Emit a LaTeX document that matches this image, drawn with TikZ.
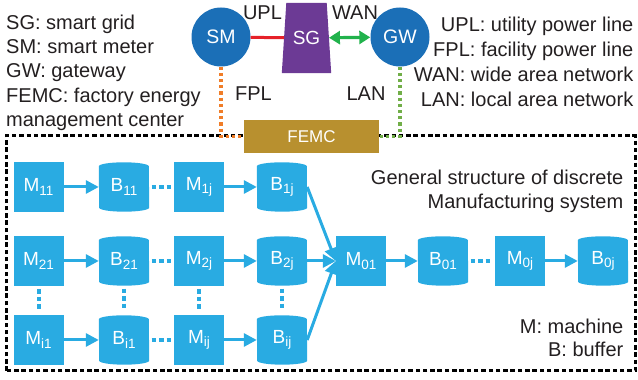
\documentclass[tikz,border=0pt]{standalone}
\usepackage{fontspec}
\setmainfont{Liberation Sans}
\usetikzlibrary{arrows.meta,backgrounds}

\definecolor{nodeblue}{HTML}{1B6FB7}
\definecolor{sgpurple}{HTML}{6C3A95}
\definecolor{femcgold}{HTML}{B8902F}
\definecolor{mfgblue}{HTML}{29ABE2}
\definecolor{upred}{HTML}{E62129}
\definecolor{wangreen}{HTML}{21B24C}
\definecolor{fplorange}{HTML}{F07D28}
\definecolor{langreen}{HTML}{71AE48}
\definecolor{legendtext}{HTML}{231F20}

% lowered index used in machine and buffer names
\newcommand\subidx[1]{\raisebox{-3.5pt}{\fontsize{13.5}{14}\selectfont #1}}

\begin{document}
\begin{tikzpicture}[x=1pt,y=1pt,
  legendL/.style={anchor=base west, inner sep=0, text=legendtext, font=\fontsize{20}{24}\selectfont},
  legendR/.style={anchor=base east, inner sep=0, text=legendtext, font=\fontsize{20}{24}\selectfont},
  linklabel/.style={anchor=base, inner sep=0, text=legendtext, font=\fontsize{20}{24}\selectfont},
  circ/.style={circle, fill=nodeblue, minimum size=59pt, inner sep=0, text=white, font=\fontsize{19.5}{22}\selectfont},
  gridbox/.style={rectangle, minimum width=44.5pt, minimum height=70pt, inner sep=0, text=white, font=\fontsize{19}{22}\selectfont},
  femcbox/.style={rectangle, fill=femcgold, minimum width=135pt, minimum height=33pt, inner sep=0, text=white, font=\fontsize{17}{20}\selectfont},
  machine/.style={rectangle, fill=mfgblue, minimum width=50pt, minimum height=50pt, inner sep=0, text=white, font=\fontsize{19}{22}\selectfont},
  buffer/.style={rectangle, minimum width=50pt, minimum height=49pt, inner sep=0, text=white, font=\fontsize{19}{22}\selectfont},
  flow/.style={mfgblue, line width=3pt, -{Triangle[length=13pt,width=13pt]}},
  skiph/.style={mfgblue, line width=4pt, dash pattern=on 4.5pt off 3pt, shorten <=2.5pt, shorten >=2.5pt},
  skipv/.style={mfgblue, line width=4pt, dash pattern=on 4.5pt off 3pt, shorten <=3pt, shorten >=6pt},
  frame/.style={black, line width=3pt, dash pattern=on 4.5pt off 2.8pt},
  fpl/.style={fplorange, line width=3.4pt, dash pattern=on 3.2pt off 3pt},
  lan/.style={langreen, line width=3.4pt, dash pattern=on 3.2pt off 3pt}
]
\useasboundingbox (0,0) rectangle (638,380);

% abbreviations, left column
\node[legendL] (l1) at (6,350.7) {SG: smart grid};
\node[legendL] (l2) at (6,326.3) {SM: smart meter};
\node[legendL] (l3) at (6,302) {GW: gateway};
\node[legendL] (l4) at (6,277.7) {FEMC: factory energy};
\node[legendL] (l5) at (6,253.5) {management center};

% abbreviations, right column
\node[legendR] (r1) at (633.5,348.3) {UPL: utility power line};
\node[legendR] (r2) at (633.5,323.3) {FPL: facility power line};
\node[legendR] (r3) at (633.5,298.3) {WAN: wide area network};
\node[legendR] (r4) at (633.5,273.3) {LAN: local area network};

% factory boundary
\draw[frame] (6,9) rectangle (635,244);

% grid side
\node[circ] (sm) at (221,343) {SM};
\node[circ] (gw) at (400,343) {GW};
\node[gridbox] (sg) at (306.5,342) {SG};
\begin{scope}[on background layer]
  \fill[sgpurple] ([xshift=2.25pt]sg.north west) -- ([xshift=-2.25pt]sg.north east)
    -- ([xshift=2.25pt]sg.south east) -- ([xshift=-2.25pt]sg.south west) -- cycle;
\end{scope}
\node[femcbox] (femc) at (311.5,243.5) {FEMC};

\draw[upred, line width=3pt] (sm) -- (sg);
\draw[wangreen, line width=3.2pt, {Triangle[length=11pt,width=13pt]}-{Triangle[length=11pt,width=13pt]}] (sg) -- (gw);
\draw[fpl] (sm) |- (femc);
\draw[lan] (gw) |- (femc);

\node[linklabel] (upl) at (262.5,360) {UPL};
\node[linklabel] (wan) at (355,360) {WAN};
\node[linklabel] (fpll) at (253.5,279) {FPL};
\node[linklabel] (lanl) at (366,279) {LAN};

% manufacturing lines
\node[machine] (m11) at (38.5,193) {M\subidx{11}};
\node[buffer]  (b11) at (124,193) {B\subidx{11}};
\node[machine] (m1j) at (199,193) {M\subidx{1j}};
\node[buffer]  (b1j) at (282,193) {B\subidx{1j}};

\node[machine] (m21) at (38.5,119) {M\subidx{21}};
\node[buffer]  (b21) at (124,119) {B\subidx{21}};
\node[machine] (m2j) at (199,119) {M\subidx{2j}};
\node[buffer]  (b2j) at (282,119) {B\subidx{2j}};

\node[machine] (mi1) at (38.5,40) {M\subidx{i1}};
\node[buffer]  (bi1) at (124,40) {B\subidx{i1}};
\node[machine] (mij) at (199,40) {M\subidx{ij}};
\node[buffer]  (bij) at (282,40) {B\subidx{ij}};

\node[machine] (m01) at (361,119) {M\subidx{01}};
\node[buffer]  (b01) at (443,119) {B\subidx{01}};
\node[machine] (m0j) at (520,119) {M\subidx{0j}};
\node[buffer]  (b0j) at (603,119) {B\subidx{0j}};

% buffer bodies drawn as upright cylinders
\begin{scope}[on background layer]
  \foreach \b in {b11,b1j,b21,b2j,bi1,bij,b01,b0j}
    \fill[mfgblue] ([yshift=-4pt]\b.north west)
      arc[start angle=180,end angle=0,x radius=25pt,y radius=4pt]
      -- ([yshift=4pt]\b.south east)
      arc[start angle=0,end angle=-180,x radius=25pt,y radius=4pt] -- cycle;
\end{scope}

\draw[flow] (m11) -- (b11);
\draw[flow] (m1j) -- (b1j);
\draw[flow] (m21) -- (b21);
\draw[flow] (m2j) -- (b2j);
\draw[flow] (mi1) -- (bi1);
\draw[flow] (mij) -- (bij);
\draw[flow] (m01) -- (b01);
\draw[flow] (m0j) -- (b0j);

\draw[flow] (b1j.east) -- (m01.west);
\draw[flow] (b2j.east) -- (m01.west);
\draw[flow] (bij.east) -- (m01.west);

\draw[skiph] (b11) -- (m1j);
\draw[skiph] (b21) -- (m2j);
\draw[skiph] (bi1) -- (mij);
\draw[skiph] (b01) -- (m0j);

\draw[skipv] (m21) -- (mi1);
\draw[skipv] (b21) -- (bi1);
\draw[skipv] (m2j) -- (mij);
\draw[skipv] (b2j) -- (bij);

\node[legendR] (t1) at (623.5,195) {General structure of discrete};
\node[legendR] (t2) at (623.5,171) {Manufacturing system};
\node[legendR] (k1) at (623.5,46.7) {M: machine};
\node[legendR] (k2) at (623.5,23.3) {B: buffer};
\end{tikzpicture}
\end{document}
